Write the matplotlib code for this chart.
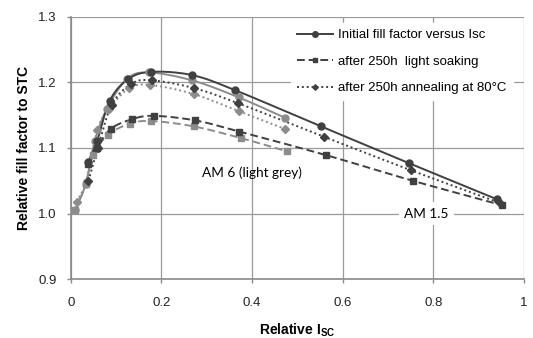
import numpy as np
import matplotlib
matplotlib.use("Agg")
import matplotlib.pyplot as plt

# AM 1.5 (dark)
x_init_am15 = [0.038, 0.058, 0.086, 0.127, 0.178, 0.268, 0.363, 0.552, 0.746, 0.940]
y_init_am15 = [1.078, 1.110, 1.172, 1.205, 1.216, 1.211, 1.188, 1.133, 1.077, 1.022]
x_soak_am15 = [0.038, 0.058, 0.088, 0.136, 0.183, 0.275, 0.372, 0.564, 0.755, 0.951]
y_soak_am15 = [1.075, 1.100, 1.129, 1.144, 1.149, 1.142, 1.125, 1.089, 1.050, 1.013]
x_anneal_am15 = [0.039, 0.060, 0.090, 0.134, 0.180, 0.273, 0.370, 0.559, 0.751, 0.944]
y_anneal_am15 = [1.050, 1.100, 1.165, 1.198, 1.203, 1.191, 1.168, 1.117, 1.066, 1.017]

# AM 6 (light grey)
x_init_am6 = [0.010, 0.033, 0.053, 0.080, 0.124, 0.172, 0.268, 0.371, 0.473]
y_init_am6 = [1.006, 1.045, 1.110, 1.160, 1.205, 1.215, 1.203, 1.177, 1.146]
x_soak_am6 = [0.010, 0.033, 0.050, 0.083, 0.130, 0.178, 0.271, 0.376, 0.477]
y_soak_am6 = [1.005, 1.045, 1.090, 1.120, 1.137, 1.141, 1.133, 1.115, 1.095]
x_anneal_am6 = [0.013, 0.035, 0.059, 0.085, 0.129, 0.176, 0.272, 0.371, 0.473]
y_anneal_am6 = [1.018, 1.050, 1.128, 1.160, 1.191, 1.196, 1.182, 1.156, 1.129]

labels = ["Initial fill factor versus Isc", "after 250h  light soaking",
          "after 250h annealing at 80°C"]

DARK = "#404040"
LIGHT = "#8c8c8c"


def smooth(x, y, n=20):
    # catmull-rom style smoothing like the spreadsheet "smoothed line"
    x = np.asarray(x, float)
    y = np.asarray(y, float)
    px = np.concatenate([[2 * x[0] - x[1]], x, [2 * x[-1] - x[-2]]])
    py = np.concatenate([[2 * y[0] - y[1]], y, [2 * y[-1] - y[-2]]])
    xs, ys = [], []
    t = np.linspace(0, 1, n)
    for i in range(1, len(px) - 2):
        for p, out in ((px, xs), (py, ys)):
            p0, p1, p2, p3 = p[i - 1], p[i], p[i + 1], p[i + 2]
            out.extend(0.5 * ((2 * p1) + (-p0 + p2) * t
                              + (2 * p0 - 5 * p1 + 4 * p2 - p3) * t ** 2
                              + (-p0 + 3 * p1 - 3 * p2 + p3) * t ** 3))
    return xs, ys


fig = plt.figure(figsize=(5.33, 3.38), dpi=100)
ax = fig.add_axes([0.1327, 0.1737, 0.8503, 0.7769])

series = [
    (x_init_am6, y_init_am6, LIGHT, "-", "o", 5, None),
    (x_soak_am6, y_soak_am6, LIGHT, (0, (4, 2)), "s", 4.5, None),
    (x_anneal_am6, y_anneal_am6, LIGHT, (0, (1, 1.5)), "D", 3.8, None),
    (x_init_am15, y_init_am15, DARK, "-", "o", 5, labels[0]),
    (x_soak_am15, y_soak_am15, DARK, (0, (4, 2)), "s", 4.5, labels[1]),
    (x_anneal_am15, y_anneal_am15, DARK, (0, (1, 1.5)), "D", 3.8, labels[2]),
]
for x, y, c, ls, mk, ms, lab in series:
    sx, sy = smooth(x, y)
    ax.plot(sx, sy, color=c, ls=ls, lw=1.4, zorder=3)
    ax.plot(x, y, color=c, ls="none", marker=mk, ms=ms, zorder=4)
    if lab:
        ax.plot([], [], color=c, ls=ls, lw=1.4, marker=mk, ms=ms - 1, label=lab)

ax.set_xlim(0, 1)
ax.set_ylim(0.9, 1.3)
ax.set_xticks([0, 0.2, 0.4, 0.6, 0.8, 1.0])
ax.set_xticklabels(["0", "0.2", "0.4", "0.6", "0.8", "1"])
ax.set_yticks([0.9, 1.0, 1.1, 1.2, 1.3])
ax.set_yticklabels(["0.9", "1.0", "1.1", "1.2", "1.3"])
ax.grid(True, color="#9a9a9a", lw=0.9)
ax.set_axisbelow(True)
for s in ["top", "right"]:
    ax.spines[s].set_visible(False)
for s in ["left", "bottom"]:
    ax.spines[s].set_color("#8a8a8a")
    ax.spines[s].set_linewidth(1.2)
ax.tick_params(colors="#8a8a8a", labelcolor="#222222", length=3, width=1.0,
               labelsize=9.5)
for lbl in ax.get_xticklabels() + ax.get_yticklabels():
    lbl.set_family("Liberation Sans")
ax.tick_params(axis="x", pad=10)
ax.tick_params(axis="y", pad=7)

ax.set_xlabel("Relative I$_{\\mathregular{SC}}$", fontsize=10, fontweight="bold",
              family="Liberation Sans", labelpad=9)
ax.set_ylabel("Relative fill factor to STC", fontsize=10, fontweight="bold",
              family="Liberation Sans", labelpad=5)

leg = ax.legend(loc="upper right", bbox_to_anchor=(0.99, 1.0), frameon=True,
                fancybox=False, edgecolor="white", framealpha=1,
                prop={"family": "Liberation Sans", "size": 9.5},
                handlelength=2.7, handletextpad=0.45, labelspacing=1.08,
                borderpad=0.45)

ax.text(0.289, 1.062, "AM 6 (light grey)", fontsize=9.8, family="Lato",
        va="center", ha="left", zorder=5)
ax.text(0.785, 1.0, "AM 1.5", fontsize=9.8, family="Lato", va="center",
        ha="center", zorder=5,
        bbox=dict(facecolor="white", edgecolor="none", pad=4))

fig.savefig("out.png", dpi=100)
